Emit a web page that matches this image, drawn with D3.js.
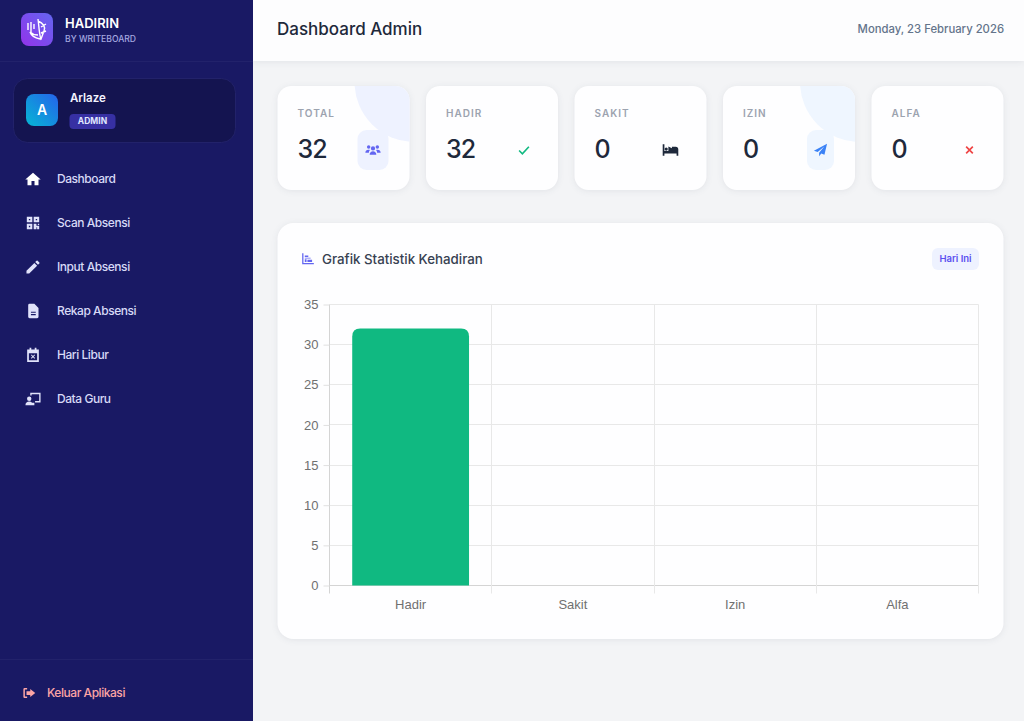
<!DOCTYPE html>
<html>
<head>
<meta charset="utf-8">
<title>Dashboard Admin</title>
<script src="https://cdn.jsdelivr.net/npm/d3@7.9.0/dist/d3.min.js"></script>
<style>
  html, body { margin: 0; padding: 0; background: #f3f4f6; overflow: hidden; }
  svg { display: block; font-family: Inter, "Noto Sans", sans-serif; }
  .soft { filter: drop-shadow(0 1px 3px rgba(30, 41, 59, 0.08)); }
  .chart-axis text { font-family: "Liberation Sans", Arial, sans-serif; font-size: 13px; fill: #707070; }
</style>
</head>
<body>
<svg id="page" width="1024" height="721"></svg>
<script>
// =========================================
// DATA
// =========================================
const categories = ["Hadir", "Sakit", "Izin", "Alfa"];
const attendance = [32, 0, 0, 0];
const barColors = ["#10b981", "#f59e0b", "#3b82f6", "#ef4444"];
const yTicks = [0, 5, 10, 15, 20, 25, 30, 35];

const statLabels = ["TOTAL", "HADIR", "SAKIT", "IZIN", "ALFA"];
const statValues = [32, 32, 0, 0, 0];

const navLabels = ["Dashboard", "Scan Absensi", "Input Absensi", "Rekap Absensi", "Hari Libur", "Data Guru"];

const ICONS = {
  home: "M12 3 .8 12.800h3.200v8.200h5.800v-6h4.400v6h5.800v-8.200h3.200z",
  qr: "M3 3h8v8H3zM6 6v2h2V6zM13 3h8v8h-8zM16 6v2h2V6zM3 13h8v8H3zM6 16v2h2v-2zM13 13h4v3h4v5h-3v-3h-1v3h-4zM19 13h2v2h-2z",
  pencil: "M2.500 17.500V21.500h4L18 10l-4-4zM21.200 6.800a1 1 0 0 0 0-1.500l-2.500-2.500a1 1 0 0 0-1.500 0l-2 2 4 4z",
  file: "M7 1.500h7l6 6V20.500a2 2 0 0 1-2 2H7a2 2 0 0 1-2-2V3.500a2 2 0 0 1 2-2zM9 13v1.600h7V13zM9 16.500v1.600h7v-1.600z",
  calendar: "M7 1.500h2.500V4h5V1.500H17V4h3.500v18h-17V4H7zM6 9.500V19.500h12V9.500zM10 11.300l2 2 2-2 1 1-2 2 2 2-1 1-2-2-2 2-1-1 2-2-2-2z",
  teacher: "M8 3h15v14h-8v-2h6V5H10v2H8zM6.500 8.500a3.200 3.200 0 1 1 0 6.400 3.200 3.200 0 0 1 0-6.400zM1 21c0-3.200 2.400-5.200 5.500-5.200 1.800 0 3 .5 4.100 1.500h3.400V21z",
  logout: "M9 4H5a2 2 0 0 0-2 2v12a2 2 0 0 0 2 2h4v-2.400H5.400V6.400H9zM14 5.500 22 12l-8 6.500V15H8V9h6z",
  users: "M5.500 5a2.600 2.600 0 1 1 0 5.200 2.600 2.600 0 0 1 0-5.200zM18.500 5a2.600 2.600 0 1 1 0 5.200 2.600 2.600 0 0 1 0-5.200zM12 6.500a3.200 3.200 0 1 1 0 6.400 3.200 3.200 0 0 1 0-6.400zM.5 16c0-2.800 2-4.500 4.500-4.500 1 0 1.700.2 2.400.6-1 1-1.600 2.300-1.600 3.900zM23.500 16c0-2.800-2-4.500-4.500-4.500-1 0-1.700.2-2.400.6 1 1 1.600 2.300 1.600 3.900zM7 19c0-3.400 2.200-5.200 5-5.200s5 1.800 5 5.200z",
  bed: "M1 4h2.400v9.500H9V7l5 2.500V7.500h5.500c2.200 0 3.500 1.500 3.500 3.500v9h-2.400v-3H3.400v3H1zM6 8.500a2.200 2.200 0 1 1 0 4.400 2.200 2.200 0 0 1 0-4.400z",
  send: "M22.500 2 1.500 13l6 2.300L18 6.500 9.800 16.300V22l3.500-4.300 5 2z",
  chart: "M2 3h2.200v16.800H22V22H2zM6.500 13.500h3v4.500h-3zM6.500 7h6v2.500h-6zM6.500 10.500h10V12h-10zM11 14h8v4h-8z"
};

const navIcons = ["home", "qr", "pencil", "file", "calendar", "teacher"];
const statIcons = [
  { key: "users", color: "#6366f1", box: "#eef2ff", blob: "#eef2ff", size: 16 },
  { key: "check", color: "#10b981", size: 13 },
  { key: "bed", color: "#1e293b", size: 17 },
  { key: "send", color: "#3b82f6", box: "#eff6ff", blob: "#eff6ff", size: 15 },
  { key: "cross", color: "#ef4444", size: 10 }
];

// =========================================
// HELPERS
// =========================================
const svg = d3.select("#page");
const defs = svg.append("defs");

function icon(parent, key, cx, cy, size, color) {
  const g = parent.append("g")
    .attr("transform", `translate(${cx - size / 2},${cy - size / 2}) scale(${size / 24})`);
  if (key === "check") {
    g.append("path").attr("d", "M3 13l6 6L21 6")
      .attr("fill", "none").attr("stroke", color).attr("stroke-width", 3);
  } else if (key === "cross") {
    g.append("path").attr("d", "M4 4l16 16M20 4L4 20")
      .attr("fill", "none").attr("stroke", color).attr("stroke-width", 4);
  } else {
    g.append("path").attr("d", ICONS[key]).attr("fill", color).attr("fill-rule", "evenodd");
  }
}

function label(parent, str, x, y, size, weight, color, anchor) {
  return parent.append("text")
    .attr("x", x).attr("y", y)
    .attr("dy", "0.35em")
    .attr("text-anchor", anchor || "start")
    .attr("font-size", size)
    .attr("font-weight", weight)
    .attr("fill", color)
    .text(str);
}

function gradient(id, from, to) {
  const g = defs.append("linearGradient").attr("id", id)
    .attr("x1", 0).attr("y1", 1).attr("x2", 1).attr("y2", 0);
  g.append("stop").attr("offset", "0%").attr("stop-color", from);
  g.append("stop").attr("offset", "100%").attr("stop-color", to);
}

// =========================================
// SIDEBAR
// =========================================
function renderSidebar() {
  const side = svg.append("g");
  side.append("rect").attr("width", 253).attr("height", 721).attr("fill", "#191964");
  side.append("rect").attr("x", 0).attr("y", 61).attr("width", 253).attr("height", 1).attr("fill", "#22226b");
  side.append("rect").attr("x", 0).attr("y", 659).attr("width", 253).attr("height", 1).attr("fill", "#22226b");

  gradient("logoGrad", "#9333ea", "#6366f1");
  gradient("avatarGrad", "#06b6d4", "#2563eb");

  side.append("rect").attr("x", 21).attr("y", 13).attr("width", 32).attr("height", 33).attr("rx", 8).attr("fill", "url(#logoGrad)");
  // leaf mark inside the logo
  side.append("path")
    .attr("d", "M28 23v7M31 22v10M34 24v5M38 19c1 7 1 14 3 21M38 21c5 2 8 6 6 10l-3 8M41 27l5-3M41 33l5-2M38 35c-3 0-6-1-8-3 1 3 5 6 10 7")
    .attr("fill", "none").attr("stroke", "#fff").attr("stroke-width", 1.400);

  label(side, "HADIRIN", 65, 23, 13, 600, "#ffffff");
  label(side, "BY WRITEBOARD", 65, 39, 8.600, 500, "#a5a8e0");

  side.append("rect").attr("x", 13.500).attr("y", 78.500).attr("width", 222).attr("height", 64).attr("rx", 14)
    .attr("fill", "#141450").attr("stroke", "#22226a");
  side.append("rect").attr("x", 26).attr("y", 94).attr("width", 32).attr("height", 32).attr("rx", 8).attr("fill", "url(#avatarGrad)");
  label(side, "A", 42, 110.500, 14, 600, "#ffffff", "middle");
  label(side, "Arlaze", 70, 98, 11.500, 600, "#f3f4ff");
  side.append("rect").attr("x", 69.500).attr("y", 114).attr("width", 46).attr("height", 15).attr("rx", 4).attr("fill", "#3730a3");
  label(side, "ADMIN", 92.500, 121.500, 8.500, 700, "#e0e7ff", "middle");

  navLabels.forEach((name, i) => {
    const cy = 179 + i * 44;
    icon(side, navIcons[i], 33, cy, 16.500, i === 0 ? "#ffffff" : "#e0e2fa");
    label(side, name, 57, cy, 12, 500, "#d7d9f6").attr("letter-spacing", -0.45);
  });

  icon(side, "logout", 29, 693, 15, "#fca5a5");
  label(side, "Keluar Aplikasi", 47, 693, 12, 500, "#fca5a5").attr("letter-spacing", -0.45);
}

// =========================================
// HEADER AND STAT CARDS
// =========================================
function renderHeader() {
  svg.append("rect").attr("class", "soft").attr("x", 253).attr("y", 0).attr("width", 771).attr("height", 61).attr("fill", "#fdfdfe");
  label(svg, "Dashboard Admin", 277, 29, 17, 500, "#1e293b");
  label(svg, "Monday, 23 February 2026", 1004, 29, 11.300, 500, "#64748b", "end");
}

function renderStats() {
  const cardX = d3.scaleBand().domain(statLabels).range([277.500, 1003.500]).paddingInner(0.111);
  const iconOffset = [95.500, 98, 96, 97.500, 98];
  const boxWidth = [31, 0, 0, 27, 0];
  statLabels.forEach((name, i) => {
    const x = cardX(name), w = cardX.bandwidth(), top = 86, h = 104;
    const g = svg.append("g");
    const spec = statIcons[i];
    const iconX = x + iconOffset[i];
    g.append("rect").attr("class", "soft").attr("x", x).attr("y", top).attr("width", w).attr("height", h).attr("rx", 14).attr("fill", "#fefeff");
    if (spec.blob) {
      const clipId = `clip-${i}`;
      defs.append("clipPath").attr("id", clipId).append("rect")
        .attr("x", x).attr("y", top).attr("width", w).attr("height", h).attr("rx", 14);
      g.append("circle").attr("cx", x + w + 5).attr("cy", top - 4).attr("r", 60)
        .attr("fill", spec.blob).attr("clip-path", `url(#${clipId})`);
      g.append("rect").attr("x", iconX - boxWidth[i] / 2).attr("y", 130).attr("width", boxWidth[i]).attr("height", 40).attr("rx", 9).attr("fill", spec.box);
    }
    label(g, name, x + 20, 113, 10, 600, "#9ca3af").attr("letter-spacing", 1);
    label(g, statValues[i], x + 20, 149, 25, 500, "#1e293b").attr("letter-spacing", -1);
    icon(g, spec.key, iconX, 150, spec.size, spec.color);
  });
}

// =========================================
// CHART CARD
// =========================================
function renderChart() {
  svg.append("rect").attr("class", "soft").attr("x", 277.500).attr("y", 223).attr("width", 726).attr("height", 416).attr("rx", 16).attr("fill", "#fefeff");

  icon(svg, "chart", 308, 258.500, 14, "#6366f1");
  label(svg, "Grafik Statistik Kehadiran", 322, 259, 13.300, 500, "#374151");

  svg.append("rect").attr("x", 932).attr("y", 248).attr("width", 47).attr("height", 22).attr("rx", 6).attr("fill", "#eef2ff");
  label(svg, "Hari Ini", 955.500, 258.500, 9.500, 600, "#5b4ff0", "middle");

  const left = 329.500, right = 978.500, top = 304.500, bottom = 585.500;
  const x = d3.scaleBand().domain(categories).range([left, right]).paddingInner(0.28).paddingOuter(0.14);
  const y = d3.scaleLinear().domain([0, 35]).range([bottom, top]);
  const step = x.step();
  const crisp = v => Math.round(v - 0.5) + 0.5;

  // gridlines
  svg.append("g").selectAll("line").data(yTicks).join("line")
    .attr("x1", left).attr("x2", right)
    .attr("y1", d => crisp(y(d))).attr("y2", d => crisp(y(d)))
    .attr("stroke", d => d === 0 ? "#d4d4d4" : "#e8e8e8");

  const edges = d3.range(categories.length + 1).map(i => crisp(left + i * step));
  svg.append("g").selectAll("line").data(edges).join("line")
    .attr("x1", d => d).attr("x2", d => d)
    .attr("y1", top).attr("y2", bottom + 8)
    .attr("stroke", (d, i) => i === 0 ? "#d4d4d4" : "#e8e8e8");

  // axes
  const yAxis = svg.append("g").attr("class", "chart-axis")
    .attr("transform", `translate(${left},0)`)
    .call(d3.axisLeft(y).tickValues(yTicks).tickSize(6).tickPadding(5));
  yAxis.select(".domain").remove();
  yAxis.selectAll(".tick line").attr("stroke", "#e0e0e0");

  const xAxis = svg.append("g").attr("class", "chart-axis")
    .attr("transform", `translate(0,${bottom})`)
    .call(d3.axisBottom(x).tickSize(0).tickPadding(14));
  xAxis.select(".domain").remove();

  // bars, rounded at the top only
  const radius = 8;
  svg.append("g").selectAll("path").data(categories).join("path")
    .attr("fill", (d, i) => barColors[i])
    .attr("d", (d, i) => {
      const x0 = x(d), w = x.bandwidth(), y0 = y(attendance[i]);
      if (attendance[i] === 0) return null;
      return `M${x0},${bottom}V${y0 + radius}Q${x0},${y0} ${x0 + radius},${y0}H${x0 + w - radius}Q${x0 + w},${y0} ${x0 + w},${y0 + radius}V${bottom}Z`;
    });
}

renderHeader();
renderStats();
renderChart();
renderSidebar();
</script>
</body>
</html>
